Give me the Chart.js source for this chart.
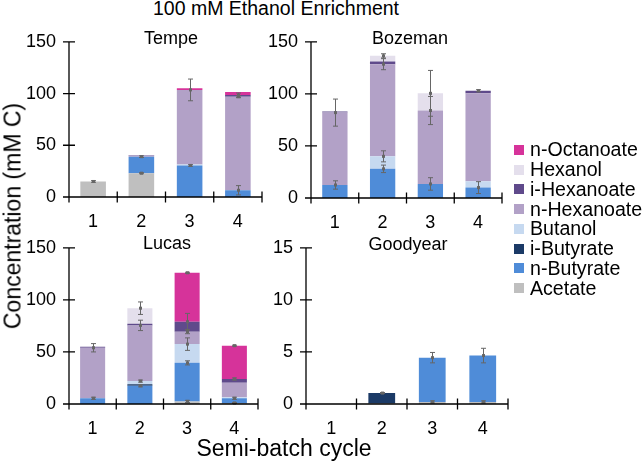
<!DOCTYPE html>
<html>
<head>
<meta charset="utf-8">
<script src="https://cdn.jsdelivr.net/npm/chart.js@4.4.1/dist/chart.umd.min.js"></script>
<style>
  body { margin: 0; width: 644px; height: 464px; background: #fff; position: relative; overflow: hidden;
         font-family: "Liberation Sans", Arial, Helvetica, sans-serif; color: #000; }
  canvas { position: absolute; }
  .txt { position: absolute; white-space: nowrap; line-height: 1; transform: translate(-50%, -50%); }
  #legend { position: absolute; left: 514px; top: 140px; font-size: 19.6px; }
  #legend div { height: 19.75px; display: flex; align-items: center; white-space: nowrap; }
  #legend span.sw { display: inline-block; width: 10px; height: 10px; margin-right: 6px; }
</style>
</head>
<body>
<div class="txt" style="left:276px; top:8.5px; font-size:19.5px;">100 mM Ethanol Enrichment</div>
<canvas id="tempe"></canvas>
<canvas id="bozeman"></canvas>
<canvas id="lucas"></canvas>
<canvas id="goodyear"></canvas>
<div class="txt" style="left:171px; top:38px; font-size:18px;">Tempe</div>
<div class="txt" style="left:410px; top:38px; font-size:18px;">Bozeman</div>
<div class="txt" style="left:167px; top:243px; font-size:18px;">Lucas</div>
<div class="txt" style="left:408px; top:243.5px; font-size:18px;">Goodyear</div>
<div class="txt" style="left:13px; top:216px; font-size:23px; transform: translate(-50%, -50%) rotate(-90deg);">Concentration (mM C)</div>
<div class="txt" style="left:284px; top:448px; font-size:23px;">Semi-batch cycle</div>
<div id="legend"></div>
<script>
const cycles = ["1", "2", "3", "4"];
const seriesNames = ["Acetate", "n-Butyrate", "i-Butyrate", "Butanol", "n-Hexanoate", "i-Hexanoate", "Hexanol", "n-Octanoate"];
const seriesColors = ["#bfbfbf", "#4f8cd8", "#1b3a66", "#c6d9f0", "#b2a1c7", "#5f4a8b", "#e4dfec", "#d6339a"];

// values per series (same order as seriesNames), one entry per cycle
const tempeValues = [
    [15, 23, 0, 0],
    [0, 16, 30.5, 6.5],
    [0, 0, 0, 0],
    [0, 0, 1, 0],
    [0, 1, 72, 90.5],
    [0, 0.5, 0, 1.5],
    [0, 0, 0, 0],
    [0, 0, 1.5, 3],
];
const tempeErrors = [
    [0.8, 0.5, null, null],
    [null, 0.8, 0.8, 4.5],
    [null, null, null, null],
    [null, null, null, null],
    [null, null, 10.5, 1],
    [null, null, null, 2],
    [null, null, null, null],
    [null, null, null, null],
];

const bozemanValues = [
    [0, 0, 0, 0],
    [12.5, 28, 13.5, 10],
    [0, 0, 0, 0],
    [0, 12, 0, 6],
    [69.5, 88.5, 70.5, 84.5],
    [1, 2.5, 0, 2.5],
    [0, 5.5, 16.5, 0],
    [0, 0, 0, 0],
];
const bozemanErrors = [
    [null, null, null, null],
    [4, 3.6, 6, 5.7],
    [null, null, null, null],
    [null, 5.3, null, null],
    [13, 5.3, 13.5, null],
    [null, null, null, 1],
    [null, 2, 22, null],
    [null, null, null, null],
];

const lucasValues = [
    [0, 0, 2.5, 1],
    [5.5, 17.5, 37, 4.5],
    [0, 1.5, 0, 0],
    [0, 3, 18, 1],
    [48.5, 53.5, 12, 14],
    [1, 1.5, 9.5, 3.5],
    [0, 15, 0, 0],
    [0, 0, 47, 32],
];
const lucasErrors = [
    [null, null, 1, 0.5],
    [1, 1, 2, 1],
    [null, null, null, null],
    [null, 1, 6, null],
    [4, 5, 2, null],
    [null, null, 8, 1],
    [null, 6, null, null],
    [null, null, 0.5, 0.5],
];

const goodyearValues = [
    [0, 0.05, 0.2, 0.2],
    [0, 0, 4.25, 4.45],
    [0, 1.0, 0, 0],
    [0, 0, 0, 0],
    [0, 0, 0, 0],
    [0, 0, 0, 0],
    [0, 0, 0, 0],
    [0, 0, 0, 0],
];
const goodyearErrors = [
    [null, null, 0.1, 0.1],
    [null, null, 0.5, 0.7],
    [null, 0.05, null, null],
    [null, null, null, null],
    [null, null, null, null],
    [null, null, null, null],
    [null, null, null, null],
    [null, null, null, null],
];

const fontFamily = '"Liberation Sans", Arial, Helvetica, sans-serif';

// error bars drawn at the top of each stacked segment
const errorBars = {
    id: "errorBars",
    afterDatasetsDraw(chart) {
        const ctx = chart.ctx;
        const y = chart.scales.y;
        const unit = y.getPixelForValue(0) - y.getPixelForValue(1);
        ctx.save();
        ctx.strokeStyle = "#666";
        ctx.lineWidth = 1;
        chart.data.datasets.forEach((ds, di) => {
            const meta = chart.getDatasetMeta(di);
            ds.errors.forEach((e, i) => {
                if (e == null) return;
                const bar = meta.data[i];
                const x = Math.round(bar.x) + 0.5;
                const top = bar.y - e * unit;
                const bot = bar.y + e * unit;
                ctx.beginPath();
                ctx.moveTo(x, top);
                ctx.lineTo(x, bot);
                ctx.moveTo(x - 2.5, top);
                ctx.lineTo(x + 2.5, top);
                ctx.moveTo(x - 2.5, bot);
                ctx.lineTo(x + 2.5, bot);
                ctx.stroke();
                ctx.fillStyle = "#666";
                ctx.fillRect(x - 1.5, bar.y - 1.5, 3, 3);
            });
        });
        ctx.restore();
    },
};

// axis lines with tick marks crossing the axis
const axisLines = {
    id: "axisLines",
    afterDraw(chart) {
        const { ctx, chartArea: a } = chart;
        const { x, y } = chart.scales;
        ctx.save();
        ctx.strokeStyle = "#000";
        ctx.lineWidth = 1.3;
        ctx.beginPath();
        ctx.moveTo(a.left, y.getPixelForValue(y.max));
        ctx.lineTo(a.left, a.bottom);
        ctx.moveTo(a.left, a.bottom);
        ctx.lineTo(a.right, a.bottom);
        y.ticks.forEach((t) => {
            const py = y.getPixelForValue(t.value);
            ctx.moveTo(a.left - 6, py);
            ctx.lineTo(a.left + 6, py);
        });
        for (let i = 0; i <= cycles.length; i++) {
            const px = x.getPixelForValue(i - 0.5);
            ctx.moveTo(px, a.bottom - 5.5);
            ctx.lineTo(px, a.bottom + 5.5);
        }
        ctx.stroke();
        ctx.restore();
    },
};

function makePanel(id, area, values, errors, yMax, yStep) {
    const el = document.getElementById(id);
    const leftW = 69, padTop = 15, padRight = 12, bottomH = 42;
    const w = area.right - area.left + leftW + padRight;
    const h = area.bottom - area.top + padTop + bottomH;
    el.width = w;
    el.height = h;
    el.style.left = area.left - leftW + "px";
    el.style.top = area.top - padTop + "px";
    el.style.width = w + "px";
    el.style.height = h + "px";

    new Chart(el, {
        type: "bar",
        data: {
            labels: cycles,
            datasets: seriesNames.map((name, i) => ({
                label: name,
                data: values[i],
                errors: errors[i],
                backgroundColor: seriesColors[i],
                borderWidth: 0,
                barPercentage: 0.53,
                categoryPercentage: 1,
            })),
        },
        options: {
            responsive: false,
            animation: false,
            layout: { autoPadding: false, padding: { left: 0, top: padTop, right: padRight, bottom: 0 } },
            plugins: {
                legend: { display: false },
                tooltip: { enabled: false },
            },
            scales: {
                x: {
                    stacked: true,
                    grid: { display: false, drawTicks: false },
                    border: { display: false },
                    ticks: { color: "#000", padding: 14, font: { family: fontFamily, size: 18 } },
                    afterFit: (s) => { s.height = bottomH; },
                },
                y: {
                    stacked: true,
                    min: 0,
                    max: yMax,
                    grid: { display: false, drawTicks: false },
                    border: { display: false },
                    ticks: { stepSize: yStep, color: "#000", padding: 13, font: { family: fontFamily, size: 18 } },
                    afterFit: (s) => { s.width = leftW; },
                },
            },
        },
        plugins: [errorBars, axisLines],
    });
}

makePanel("tempe", { left: 69, top: 33, right: 262, bottom: 197 }, tempeValues, tempeErrors, 150, 50);
makePanel("bozeman", { left: 311, top: 33, right: 502, bottom: 198 }, bozemanValues, bozemanErrors, 150, 50);
makePanel("lucas", { left: 69, top: 239, right: 258, bottom: 404 }, lucasValues, lucasErrors, 150, 50);
makePanel("goodyear", { left: 306, top: 239, right: 508, bottom: 404 }, goodyearValues, goodyearErrors, 15, 5);

// legend, top entry is the last series
const legendEl = document.getElementById("legend");
for (let i = seriesNames.length - 1; i >= 0; i--) {
    const row = document.createElement("div");
    row.innerHTML = `<span class="sw" style="background:${seriesColors[i]}"></span>${seriesNames[i]}`;
    legendEl.appendChild(row);
}
</script>
</body>
</html>
